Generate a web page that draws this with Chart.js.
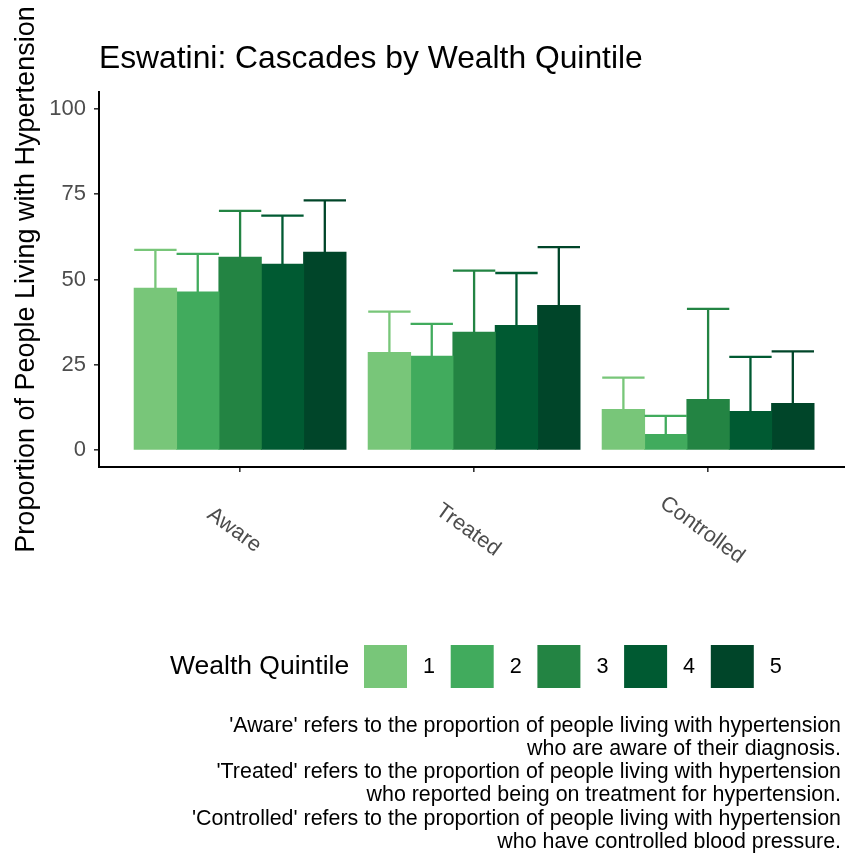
<!DOCTYPE html>
<html>
<head>
<meta charset="utf-8">
<script src="https://cdn.jsdelivr.net/npm/chart.js@4.4.0/dist/chart.umd.min.js"></script>
<style>
  html, body { margin: 0; padding: 0; background: #fff; }
  #wrap { width: 845px; height: 855px; position: relative; }
</style>
</head>
<body>
<div id="wrap"><canvas id="chart"></canvas></div>
<script>
// values
const categories = ['Aware', 'Treated', 'Controlled'];
const quintiles = ['1', '2', '3', '4', '5'];
const q1 = [47.4, 28.6, 11.9];
const q2 = [46.3, 27.5, 4.5];
const q3 = [56.5, 34.5, 14.8];
const q4 = [54.5, 36.5, 11.3];
const q5 = [58.0, 42.4, 13.6];
const q1Upper = [58.7, 40.6, 21.2];
const q2Upper = [57.5, 37.0, 10.0];
const q3Upper = [70.1, 52.6, 41.4];
const q4Upper = [68.7, 51.9, 27.3];
const q5Upper = [73.2, 59.5, 28.9];
const yTicks = [0, 25, 50, 75, 100];
const greens = ['#78c679', '#41ab5d', '#238443', '#005a32', '#004529'];
const captionLines = [
  "'Aware' refers to the proportion of people living with hypertension",
  "who are aware of their diagnosis.",
  "'Treated' refers to the proportion of people living with hypertension",
  "who reported being on treatment for hypertension.",
  "'Controlled' refers to the proportion of people living with hypertension",
  "who have controlled blood pressure."
];

const FONT = "'Liberation Sans', Arial, sans-serif";
const values = [q1, q2, q3, q4, q5];
const uppers = [q1Upper, q2Upper, q3Upper, q4Upper, q5Upper];

const datasets = quintiles.map((q, i) => ({
  label: q,
  data: categories.map((c, j) => ({ x: j + 1, y: values[i][j] })),
  upper: uppers[i],
  backgroundColor: greens[i],
  borderWidth: 0,
  inflateAmount: 0.5,
  categoryPercentage: 0.905,
  barPercentage: 1.0
}));

const extras = {
  id: 'extras',
  afterDatasetsDraw(chart) {
    const ctx = chart.ctx;
    const y = chart.scales.y;
    // error bars (upper half, the rest sits behind the bar)
    chart.data.datasets.forEach((ds, i) => {
      const meta = chart.getDatasetMeta(i);
      ctx.save();
      ctx.strokeStyle = ds.backgroundColor;
      ctx.lineWidth = 2.3;
      meta.data.forEach((bar, j) => {
        const top = y.getPixelForValue(ds.upper[j]);
        const half = bar.width / 2;
        ctx.beginPath();
        ctx.moveTo(bar.x, bar.y);
        ctx.lineTo(bar.x, top);
        ctx.moveTo(bar.x - half, top);
        ctx.lineTo(bar.x + half, top);
        ctx.stroke();
      });
      ctx.restore();
    });
  },
  afterDraw(chart) {
    const ctx = chart.ctx;
    const x = chart.scales.x;
    ctx.save();
    // rotated category labels
    ctx.fillStyle = '#4d4d4d';
    ctx.font = `21.6px ${FONT}`;
    ctx.textAlign = 'center';
    ctx.textBaseline = 'middle';
    categories.forEach((c, j) => {
      ctx.save();
      ctx.translate(x.getPixelForValue(j + 1) - 6, 530);
      ctx.rotate(36 * Math.PI / 180);
      ctx.fillText(c, 0, 0);
      ctx.restore();
    });
    // legend
    ctx.fillStyle = '#000';
    ctx.textAlign = 'left';
    ctx.font = `26.5px ${FONT}`;
    ctx.fillText('Wealth Quintile', 170, 667);
    ctx.font = `21.6px ${FONT}`;
    chart.data.datasets.forEach((ds, i) => {
      const kx = 364 + i * 86.7;
      ctx.fillStyle = ds.backgroundColor;
      ctx.fillRect(kx, 645, 43, 43);
      ctx.fillStyle = '#000';
      ctx.fillText(ds.label, kx + 59, 667);
    });
    // caption
    ctx.textAlign = 'right';
    ctx.textBaseline = 'alphabetic';
    ctx.font = `21.4px ${FONT}`;
    captionLines.forEach((line, k) => {
      ctx.fillText(line, 841, 731.5 + k * 23.25);
    });
    ctx.restore();
  }
};

new Chart(document.getElementById('chart'), {
  type: 'bar',
  data: { datasets },
  options: {
    responsive: true,
    maintainAspectRatio: false,
    animation: false,
    layout: { padding: { left: 0, right: 0, top: 0, bottom: 388 } },
    scales: {
      x: {
        type: 'linear',
        offset: false,
        min: 0.397,
        max: 3.585,
        afterBuildTicks: (s) => { s.ticks = categories.map((c, j) => ({ value: j + 1 })); },
        afterFit: (s) => { s.height = 0; },
        ticks: { display: false },
        grid: { display: true, offset: false, drawOnChartArea: false, drawTicks: true, tickLength: 5, color: '#333333', lineWidth: 1.6 },
        border: { display: true, color: '#000000', width: 2 }
      },
      y: {
        min: -5,
        max: 105,
        afterBuildTicks: (s) => { s.ticks = yTicks.map(v => ({ value: v })); },
        afterFit: (s) => { s.width = 99; },
        ticks: { color: '#4d4d4d', font: { family: FONT, size: 22 }, padding: 8 },
        grid: { display: true, drawOnChartArea: false, drawTicks: true, tickLength: 5, color: '#333333', lineWidth: 1.6 },
        border: { display: true, color: '#000000', width: 2 },
        title: {
          display: true,
          text: 'Proportion of People Living with Hypertension',
          color: '#000',
          font: { family: FONT, size: 27 },
          padding: { top: 10, bottom: 0 }
        }
      }
    },
    plugins: {
      legend: { display: false },
      tooltip: { enabled: false },
      title: {
        display: true,
        fullSize: false,
        align: 'start',
        text: 'Eswatini: Cascades by Wealth Quintile',
        color: '#000',
        font: { family: FONT, size: 31.8, weight: 'normal' },
        padding: { top: 40, bottom: 13.8 }
      }
    }
  },
  plugins: [extras]
});
</script>
</body>
</html>
